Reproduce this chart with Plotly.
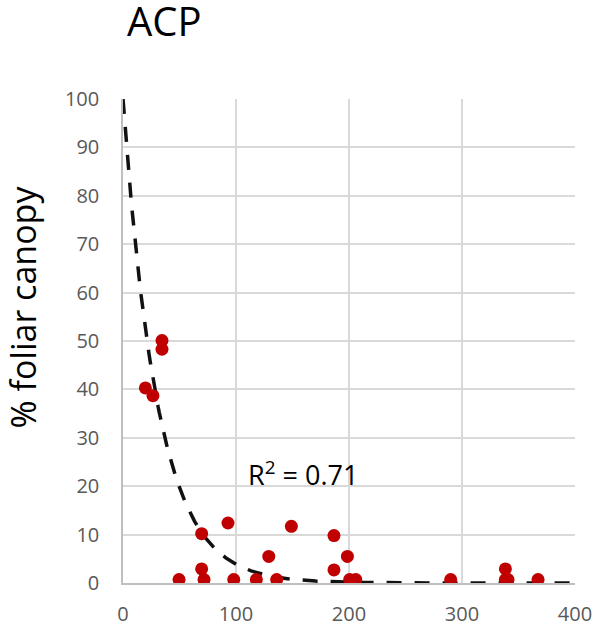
import numpy as np
import plotly.graph_objects as go

# Data
x_vals = [19.8, 26.5, 34.5, 34.5, 49.6, 69.6, 69.6, 71.7, 92.9, 98.0,
          118.0, 129.0, 136.0, 149.0, 186.7, 186.7, 198.6, 200.6, 206.0,
          290.0, 338.4, 338.4, 340.7, 367.3]
y_vals = [40.3, 38.7, 50.1, 48.3, 0.7, 10.2, 2.9, 0.7, 12.4, 0.7,
          0.7, 5.5, 0.7, 11.7, 9.8, 2.7, 5.5, 0.7, 0.7,
          0.7, 2.9, 0.7, 0.7, 0.7]

# Exponential trendline coefficients (y = a * exp(-b x)), R^2 as shown
fit_a = 100.0
fit_b = 0.0325
r2_label = "R<sup>2</sup> = 0.71"

x_ticks = [0, 100, 200, 300, 400]
y_ticks = [0, 10, 20, 30, 40, 50, 60, 70, 80, 90, 100]

fit_x = np.linspace(0, 400, 400)
fit_y = fit_a * np.exp(-fit_b * fit_x)

FONT = "Open Sans"
TICK_COLOR = "#595959"
GRID = "#d9d9d9"

fig = go.Figure()
fig.add_trace(go.Scatter(
    x=fit_x, y=fit_y, mode="lines",
    line=dict(color="#111111", width=3.5, dash="15px,13px"),
    hoverinfo="skip", showlegend=False,
))
fig.add_trace(go.Scatter(
    x=x_vals, y=y_vals, mode="markers",
    marker=dict(color="#c00000", size=13, line=dict(width=0)),
    showlegend=False,
))

L, R, T, B = 123, 21, 99, 52
W, H = 596, 635
pw, ph = W - L - R, H - T - B

fig.update_layout(
    width=W, height=H,
    margin=dict(l=L, r=R, t=T, b=B, pad=0, autoexpand=False),
    paper_bgcolor="white", plot_bgcolor="white",
    font=dict(family=FONT, color=TICK_COLOR),
    title=dict(text="ACP", x=127 / W, xanchor="left", xref="container",
               y=1 - 22 / H, yanchor="middle", yref="container",
               font=dict(family=FONT, size=40, color="#000000")),
    xaxis=dict(range=[0, 400], tickvals=x_ticks, showgrid=True,
               gridcolor=GRID, gridwidth=1.5, zeroline=False,
               showline=True, linecolor="#bfbfbf", linewidth=1.5,
               ticks="", tickfont=dict(size=20, color=TICK_COLOR),
               ticklabelstandoff=12, automargin=False, fixedrange=True),
    yaxis=dict(range=[0, 100], tickvals=y_ticks, showgrid=True,
               gridcolor=GRID, gridwidth=1.5, zeroline=False,
               showline=True, linecolor="#bfbfbf", linewidth=1.5,
               ticks="", tickfont=dict(size=20, color=TICK_COLOR),
               ticklabelstandoff=18, automargin=False, fixedrange=True),
    annotations=[
        dict(text="% foliar canopy", textangle=-90, xref="paper", yref="paper",
             x=(22 - L) / pw, y=(H - B - 307.5) / ph, xanchor="center",
             yanchor="middle", showarrow=False,
             font=dict(family=FONT, size=34, color="#000000")),
        dict(text=r2_label, xref="paper", yref="paper",
             x=(302.5 - L) / pw, y=(H - B - 473) / ph, xanchor="center",
             yanchor="middle", showarrow=False,
             font=dict(family=FONT, size=27, color="#000000")),
    ],
)

fig.write_html("out.html")
